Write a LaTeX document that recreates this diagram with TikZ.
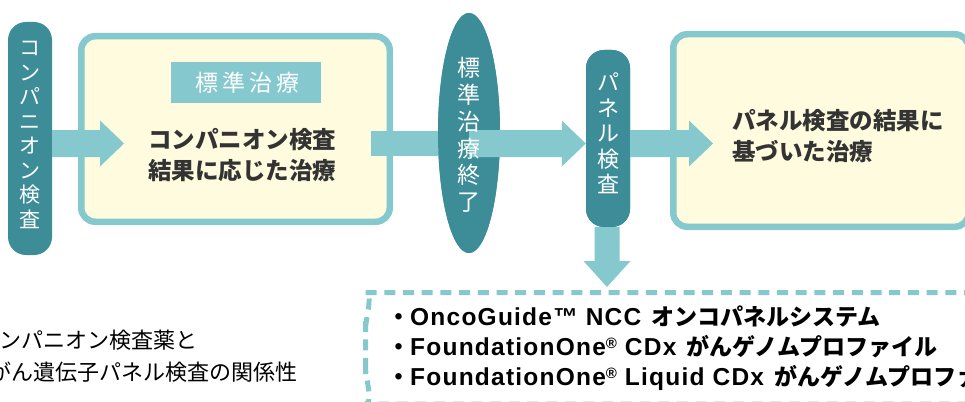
\documentclass[tikz,border=0pt]{standalone}
\usepackage{fontspec}
\setmainfont{Noto Sans CJK JP}
\newfontfamily\lat{Liberation Sans}[LetterSpace=5]
\newfontfamily\cjksp{Noto Sans CJK JP}[LetterSpace=16]
\usetikzlibrary{calc,shapes.geometric}
\definecolor{dk}{HTML}{3C8D98}
\definecolor{lt}{HTML}{85C9CE}
\definecolor{yl}{HTML}{FEFBDE}
\definecolor{tx}{HTML}{333333}
\newcommand\harrow[2]{\fill[lt] let \p1=(#1),\p2=(#2) in (\x1,\y2+13.5pt) -- (\x2-24pt,\y2+13.5pt) -- (\x2-24pt,\y2+23pt) -- (\x2,\y2) -- (\x2-24pt,\y2-23pt) -- (\x2-24pt,\y2-13.5pt) -- (\x1,\y2-13.5pt) -- cycle;}
\newcommand\varrow[2]{\fill[lt] let \p1=(#1),\p2=(#2) in (\x2-12.5pt,\y1) -- (\x2-12.5pt,\y2+26pt) -- (\x2-23.5pt,\y2+26pt) -- (\x2,\y2) -- (\x2+23.5pt,\y2+26pt) -- (\x2+12.5pt,\y2+26pt) -- (\x2+12.5pt,\y1) -- cycle;}
\newcommand\regmark{{\fontsize{15}{15}\selectfont\raisebox{7pt}{®}}}
\newcommand\gap{\hspace*{10pt}}
\begin{document}
\begin{tikzpicture}[x=1pt,y=-1pt,
  bigbox/.style={draw=lt,line width=6.5pt,fill=yl,rounded corners=14pt,inner sep=0},
  pill/.style={fill=dk,rounded corners=18pt,inner sep=0,minimum width=44pt},
  vtext/.style={text=white,align=center,inner sep=0},
  boxtext/.style={text=tx,inner sep=0,font=\bfseries\fontsize{23.5}{31}\selectfont},
  dashbox/.style={draw=lt,line width=5pt,dash pattern=on 11pt off 7.7pt,rounded corners=18pt}]
\useasboundingbox (0,0) rectangle (965,401);
\clip (0,0) rectangle (965,401);
\coordinate (row) at (0,143.5);
% boxes
\node[bigbox,minimum width=308.5pt,minimum height=185.5pt] (box1) at (235.5,129) {};
\node[bigbox,minimum width=295.5pt,minimum height=192.5pt] (box2) at (821,130.5) {};
\node[fill=lt,minimum width=150pt,minimum height=41pt,inner sep=0,text=white,font=\cjksp\fontsize{23}{23}\selectfont] (lab) at (246,82.5) {\hspace*{3pt}標準治療};
\node[boxtext,align=center] (txt1) at (242,155) {コンパニオン検査\\結果に応じた治療};
\node[boxtext,align=left,anchor=west] (txt2) at (732,136) {パネル検査の結果に\\基づいた治療};
% dashed box
\draw[dashbox] (975,292.5) -- (383.5,292.5) to[out=180,in=-90] (365.5,310.5) -- (365.5,386) to[out=90,in=180] (383.5,404) -- (975,404);
% nodes on the row
\node[pill,minimum height=233pt] (pillL) at (30,138.5) {};
\node[ellipse,fill=dk,minimum width=62pt,minimum height=240pt,inner sep=0] (ell) at (469,133) {};
\node[pill,minimum height=177pt] (pill2) at (608,138.5) {};
% arrows
\coordinate (t1) at (124,143.5);
\coordinate (t4) at (713,143.5);
\coordinate (t5) at (607,287);
\harrow{pillL.east |- row}{t1}
\fill[lt] ($(box1.east |- row)+(-22,-12.5)$) rectangle ($(ell.center |- row)+(0,12.5)$);
\node[ellipse,fill=dk,minimum width=62pt,minimum height=240pt,inner sep=0] (ellTop) at (ell) {};
\harrow{ell.center |- row}{pill2.west |- row}
\node[pill,minimum height=177pt] (pill2Top) at (pill2) {};
\harrow{pill2.east |- row}{t4}
\varrow{pill2.south}{t5}
% vertical texts
\node[vtext,font=\fontsize{21}{24.5}\selectfont] (vt1) at (30,135) {コ\\ン\\パ\\ニ\\オ\\ン\\検\\査};
\node[vtext,font=\fontsize{23}{26.7}\selectfont] (vt2) at (469,135) {標\\準\\治\\療\\終\\了};
\node[vtext,font=\fontsize{22}{25.4}\selectfont] (vt3) at (608,133.5) {パ\\ネ\\ル\\検\\査};
% bullet list
\node[anchor=west,align=left,inner sep=0,font=\bfseries\fontsize{23}{30}\selectfont] (list) at (387,348)
 {・{\lat\fontsize{24.5}{30}\selectfont OncoGuide™ NCC}\gap オンコパネルシステム\\
  ・{\lat\fontsize{24.5}{30}\selectfont FoundationOne\regmark{} CDx}\gap がんゲノムプロファイル\\
  ・{\lat\fontsize{24.5}{30}\selectfont FoundationOne\regmark{} Liquid CDx}\gap がんゲノムプロファイル};
% caption
\node[anchor=east,inner sep=0,font=\fontsize{22}{22}\selectfont] (cap1) at (198,340) {コンパニオン検査薬と};
\node[anchor=east,inner sep=0,font=\fontsize{22}{22}\selectfont] (cap2) at (298,372) {がん遺伝子パネル検査の関係性};
\end{tikzpicture}
\end{document}
